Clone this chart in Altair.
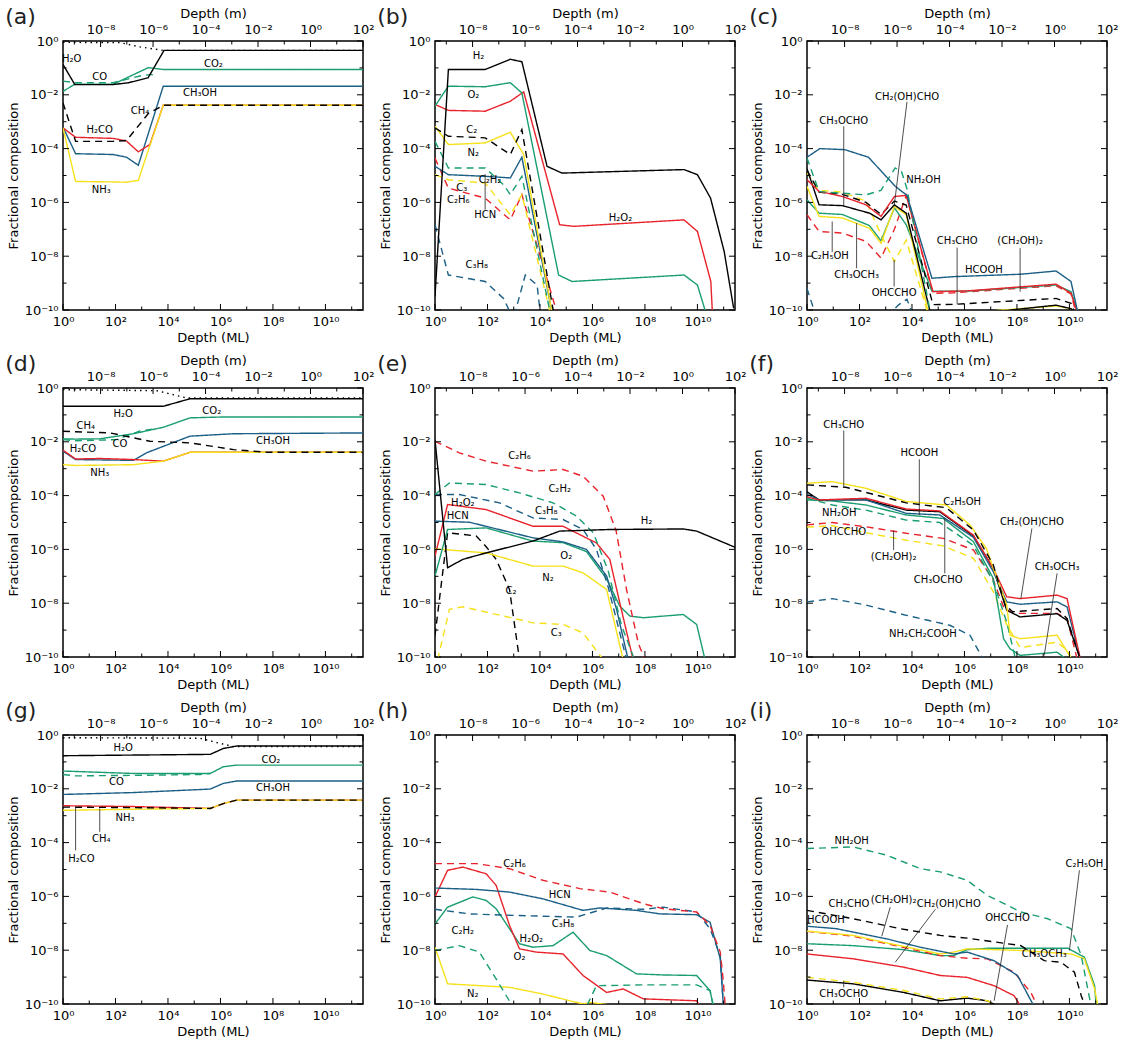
import json
import altair as alt
import pandas as pd

FONT = "DejaVu Sans"
W, H = 300, 269
M_PER_ML = 3.7e-10          # metres per monolayer (top axis conversion)
X_MAX = 2.7e11              # right end of the ML axis
M_MAX = 1.0e2               # right end of the metre axis

# ---------------- tick values and labels ----------------
x_tick_exps = list(range(0, 12))
x_tick_labels = ['10⁰', '', '10²', '', '10⁴', '', '10⁶', '', '10⁸', '', '10¹⁰', '']
m_tick_exps = list(range(-9, 3))
m_tick_labels = ['', '10⁻⁸', '', '10⁻⁶', '', '10⁻⁴', '', '10⁻²', '', '10⁰', '', '10²']
y_tick_exps = list(range(-10, 1))
y_tick_labels = ['10⁻¹⁰', '', '10⁻⁸', '', '10⁻⁶', '', '10⁻⁴', '', '10⁻²', '', '10⁰']

# ---------------- series styles ----------------
BLACK, GREEN, BLUE, RED, YELLOW = "#000000", "#1a9e70", "#1b5f86", "#e8232b", "#f6e11a"
STYLE = {
    "total": (BLACK, "dotted"), "H2O": (BLACK, "solid"), "CO2": (GREEN, "solid"),
    "CO": (GREEN, "dashed"), "CH3OH": (BLUE, "solid"), "H2CO": (RED, "solid"),
    "NH3": (YELLOW, "solid"), "CH4": (BLACK, "dashed"),
    "H2": (BLACK, "solid"), "O2": (GREEN, "solid"), "H2O2": (RED, "solid"),
    "N2": (YELLOW, "solid"), "HCN": (BLUE, "solid"), "C2": (BLACK, "dashed"),
    "C2H2": (GREEN, "dashed"), "C3": (YELLOW, "dashed"), "C2H6": (RED, "dashed"),
    "C3H8": (BLUE, "dashed"),
    "HCOOH": (BLUE, "solid"), "NH2OH": (GREEN, "dashed"), "CH2(OH)CHO": (RED, "solid"),
    "CH3CHO": (BLACK, "dashed"), "CH3OCHO": (BLACK, "solid"), "C2H5OH": (YELLOW, "solid"),
    "CH3OCH3": (GREEN, "solid"), "(CH2OH)2": (RED, "dashed"), "OHCCHO": (YELLOW, "dashed"),
    "NH2CH2COOH": (BLUE, "dashed"),
}

# ---------------- data: log10(depth in ML), log10(fraction) ----------------
panel_a = {
    "total": ([0, 2.17, 2.93, 3.82, 11.5], [-0.05, -0.06, -0.22, -0.35, -0.35]),
    "CO2": ([0, 0.45, 1.91, 3.25, 3.82, 11.5], [-1.87, -1.61, -1.61, -0.99, -1.06, -1.06]),
    "CO": ([0, 0.45, 1.91, 2.93, 3.38, 3.5], [-1.49, -1.55, -1.55, -1.30, -1.24, -1.32]),
    "H2O": ([0, 0.45, 1.91, 2.5, 3.24, 3.85, 11.5], [-0.87, -1.62, -1.62, -1.55, -1.37, -0.35, -0.35]),
    "CH3OH": ([0, 0.48, 1.91, 2.42, 2.87, 3.82, 11.5], [-3.2, -4.19, -4.22, -4.32, -4.62, -1.68, -1.68]),
    "H2CO": ([0, 0.48, 1.91, 2.42, 2.87, 3.31, 3.82, 11.5], [-3.23, -3.58, -3.62, -3.72, -4.12, -3.85, -2.39, -2.39]),
    "NH3": ([0, 0.48, 1.91, 2.42, 2.87, 3.82, 11.5], [-3.23, -5.22, -5.24, -5.25, -5.18, -2.39, -2.39]),
    "CH4": ([0, 0.48, 1.91, 2.42, 3.25, 3.82, 11.5], [-2.3, -3.73, -3.73, -3.7, -2.7, -2.39, -2.39]),
}
panel_b = {
    "C3H8": ([0, 0.51, 1.91, 2.61, 2.87, 3.05, 3.44, 3.89, 4.01], [-6.83, -8.7, -8.94, -9.57, -10.1, -10.1, -8.7, -9.07, -10.1]),
    "C2H6": ([0, 0.51, 1.91, 2.87, 3.31, 4.65], [-4.35, -5.47, -5.84, -6.65, -5.71, -10.1]),
    "C3": ([0, 0.51, 1.91, 2.87, 3.31, 4.39], [-4.97, -5.16, -5.28, -6.46, -5.71, -10.1]),
    "C2H2": ([0, 0.51, 1.91, 2.61, 2.87, 3.31, 4.39], [-3.73, -4.72, -4.72, -5.34, -5.71, -5.03, -10.1]),
    "HCN": ([0, 0.51, 1.91, 2.87, 3.31, 4.46], [-4.66, -4.97, -5.03, -5.09, -4.32, -10.1]),
    "N2": ([0, 0.51, 1.91, 2.87, 3.38, 4.46], [-3.17, -3.85, -3.79, -3.39, -4.22, -10.1]),
    "C2": ([0, 0.51, 1.91, 2.87, 3.31, 4.52], [-3.23, -3.54, -3.6, -4.22, -3.29, -10.1]),
    "H2O2": ([0, 0.51, 1.91, 2.87, 3.38, 4.75, 5.29, 9.49, 10.0, 10.51, 10.57], [-2.36, -2.58, -2.61, -2.24, -1.89, -6.83, -6.89, -6.65, -7.08, -8.94, -10.1]),
    "O2": ([0, 0.51, 1.91, 2.87, 3.31, 4.71, 5.22, 9.49, 10.0, 10.32], [-2.42, -1.68, -1.7, -1.55, -1.93, -8.7, -8.94, -8.7, -9.07, -10.1]),
    "H2": ([0, 0.51, 1.91, 2.87, 3.31, 4.27, 4.84, 9.49, 10.0, 10.5, 11.02, 11.38], [-9.5, -1.06, -1.06, -0.68, -0.77, -4.66, -4.91, -4.78, -4.97, -5.84, -7.83, -9.94]),
}
panel_c = {
    "NH2CH2COOH": ([0, 0.3, 3.2, 3.5, 3.81, 4.0], [-9.2, -10.1, -10.1, -9.8, -9.6, -10.1]),
    "OHCCHO": ([0, 0.46, 1.35, 2.25, 2.82, 3.33, 3.78, 4.6], [-4.9, -5.55, -5.62, -5.95, -7.2, -8.2, -7.4, -10.1]),
    "(CH2OH)2": ([0, 0.46, 1.35, 2.25, 2.82, 3.33, 3.78, 4.8, 5.6, 9.49, 10.06, 10.25], [-6.46, -7.08, -7.14, -7.45, -8.07, -7.0, -5.74, -9.38, -9.36, -9.1, -9.4, -10.1]),
    "CH3OCH3": ([0, 0.46, 1.35, 2.38, 2.82, 3.33, 3.78, 4.76, 6.1, 9.49, 10.06, 10.32], [-5.9, -6.4, -6.45, -6.86, -7.43, -6.2, -6.83, -9.3, -9.3, -9.07, -9.32, -10.1]),
    "C2H5OH": ([0, 0.46, 1.35, 2.38, 2.82, 3.33, 3.78, 4.62, 6.8, 9.49, 10.06, 10.15], [-5.4, -6.52, -6.58, -6.96, -7.52, -6.15, -6.46, -10.1, -10.05, -9.85, -9.95, -10.1]),
    "CH3OCHO": ([0, 0.46, 1.35, 2.38, 2.82, 3.33, 3.78, 4.7, 6.8, 9.49, 10.06, 10.2], [-4.75, -6.09, -6.12, -6.4, -6.65, -6.09, -6.4, -10.1, -10.1, -9.82, -9.95, -10.1]),
    "CH3CHO": ([0, 0.46, 1.35, 2.25, 2.82, 3.33, 3.78, 4.8, 5.6, 9.49, 10.06, 10.2], [-4.8, -5.62, -5.7, -6.0, -6.45, -5.95, -6.1, -9.8, -9.79, -9.57, -9.75, -10.1]),
    "CH2(OH)CHO": ([0, 0.46, 1.35, 2.25, 2.82, 3.33, 3.78, 4.8, 6.1, 9.49, 10.06, 10.3], [-5.16, -5.59, -5.78, -6.09, -6.52, -5.78, -5.74, -9.32, -9.29, -9.04, -9.38, -10.1]),
    "NH2OH": ([0, 0.46, 2.25, 2.82, 3.36, 3.6, 3.81, 4.7], [-4.35, -5.6, -5.72, -5.55, -4.72, -4.85, -5.5, -10.1]),
    "HCOOH": ([0, 0.49, 1.44, 2.34, 3.36, 3.81, 4.76, 5.59, 8.15, 9.49, 10.06, 10.32], [-4.32, -4.0, -4.04, -4.32, -5.4, -5.74, -8.82, -8.76, -8.67, -8.55, -8.94, -10.1]),
}
panel_d = {
    "total": ([0, 3.57, 4.71, 11.5], [-0.06, -0.1, -0.37, -0.37]),
    "CO2": ([0, 0.48, 1.4, 2.68, 3.82, 4.84, 5.99, 11.5], [-1.89, -1.9, -1.89, -1.7, -1.46, -1.11, -1.08, -1.08]),
    "CO": ([0, 0.48, 2.04, 2.93, 3.6], [-1.92, -1.96, -1.92, -1.6, -1.5]),
    "CH3OH": ([0, 0.48, 2.68, 3.18, 3.82, 4.84, 6.5, 11.5], [-2.35, -2.66, -2.69, -2.41, -2.17, -1.79, -1.7, -1.67]),
    "H2CO": ([0, 0.48, 1.4, 2.68, 3.82, 4.84, 11.5], [-2.31, -2.64, -2.62, -2.66, -2.72, -2.39, -2.39]),
    "NH3": ([0, 0.48, 2.68, 3.82, 4.84, 11.5], [-2.85, -2.88, -2.85, -2.72, -2.39, -2.39]),
    "H2O": ([0, 3.82, 4.84, 11.5], [-0.68, -0.68, -0.4, -0.4]),
    "CH4": ([0, 1.79, 3.31, 4.84, 6.5, 7.77, 11.5], [-1.61, -1.67, -1.98, -2.04, -2.29, -2.39, -2.39]),
}
panel_e = {
    "C3": ([0.1, 0.55, 1.06, 3.73, 4.88, 5.64, 6.41], [-10.1, -8.23, -8.13, -8.73, -8.79, -9.1, -10.1]),
    "C2": ([0, 0.48, 1.57, 1.95, 2.33, 2.84, 3.22], [-9.2, -5.38, -5.5, -5.9, -6.37, -7.49, -10.1]),
    "N2": ([0, 1.95, 3.73, 4.88, 5.64, 6.54, 7.17], [-5.98, -6.13, -6.62, -6.62, -6.87, -7.49, -10.1]),
    "O2": ([0, 0.48, 1.95, 3.73, 4.88, 5.77, 6.54, 7.04, 7.43, 7.94, 9.46, 9.97, 10.29], [-6.99, -5.26, -5.2, -5.69, -5.75, -6.08, -7.1, -8.11, -8.48, -8.54, -8.42, -8.79, -10.1]),
    "HCN": ([0, 1.31, 3.73, 4.88, 5.77, 6.54, 6.92, 7.36], [-4.95, -4.99, -5.57, -5.72, -6.0, -6.99, -8.23, -10.1]),
    "H2O2": ([0, 0.48, 1.95, 3.73, 4.88, 6.15, 6.66, 7.04, 7.55], [-6.25, -4.33, -4.52, -5.14, -5.14, -5.76, -6.37, -7.98, -10.1]),
    "C3H8": ([0, 0.93, 2.46, 3.73, 4.88, 5.64, 6.15, 6.6, 7.3], [-3.96, -3.96, -4.27, -4.83, -4.89, -5.26, -6.0, -7.4, -10.1]),
    "C2H2": ([0, 0.55, 1.95, 3.22, 4.5, 5.39, 6.03, 6.6, 7.1, 7.6], [-3.96, -3.53, -3.59, -3.9, -4.27, -4.76, -5.38, -6.8, -8.8, -10.1]),
    "C2H6": ([0, 0.93, 1.95, 3.73, 4.88, 5.64, 6.41, 6.9, 7.3, 7.75, 8.0], [-1.98, -2.41, -2.72, -3.09, -3.03, -3.28, -4.02, -5.3, -7.5, -9.5, -10.1]),
    "H2": ([0, 0.48, 1.06, 1.95, 3.73, 4.75, 6.66, 9.46, 9.97, 11.5], [-1.92, -6.68, -6.37, -6.13, -5.69, -5.32, -5.26, -5.24, -5.32, -5.95]),
}
panel_f = {
    "NH2CH2COOH": ([0, 0.97, 2.25, 3.78, 5.44, 6.21, 6.72], [-7.95, -7.83, -8.07, -8.45, -8.82, -9.19, -10.1]),
    "OHCCHO": ([0, 0.97, 2.25, 3.78, 5.19, 6.34, 7.1, 7.61, 8.12, 9.53, 9.91, 10.1], [-5.17, -5.12, -5.38, -5.66, -5.87, -6.33, -7.57, -8.8, -9.65, -9.45, -9.75, -10.1]),
    "(CH2OH)2": ([0, 0.97, 2.25, 3.78, 5.19, 6.34, 7.1, 7.49, 7.84, 9.53, 9.91, 10.3], [-5.09, -5.0, -5.16, -5.4, -5.59, -6.02, -7.14, -8.13, -8.38, -8.38, -8.57, -10.1]),
    "NH2OH": ([0, 0.97, 2.25, 3.78, 5.06, 6.34, 7.1, 7.61, 7.95], [-4.1, -4.35, -4.54, -4.91, -5.0, -5.85, -7.21, -8.7, -10.1]),
    "CH3OCH3": ([0, 0.97, 2.25, 3.78, 5.19, 6.34, 7.1, 7.49, 7.74, 8.12, 9.53, 9.91], [-4.16, -4.2, -4.35, -4.72, -4.85, -5.71, -7.08, -9.32, -9.7, -9.94, -9.82, -10.1]),
    "CH3OCHO": ([0, 0.46, 2.25, 3.78, 5.06, 6.34, 7.1, 7.61, 8.12, 9.53, 9.91, 10.42], [-3.86, -4.16, -4.16, -4.54, -4.6, -5.5, -6.71, -8.26, -8.51, -8.39, -8.64, -10.1]),
    "HCOOH": ([0, 0.46, 2.25, 3.78, 5.06, 6.34, 7.1, 7.61, 8.12, 9.53, 9.91, 10.42], [-3.95, -4.16, -4.16, -4.66, -4.72, -5.55, -6.83, -7.95, -8.04, -7.95, -8.14, -10.1]),
    "CH2(OH)CHO": ([0, 0.46, 2.25, 3.78, 5.06, 6.34, 7.1, 7.61, 8.12, 9.53, 9.91, 10.42], [-4.05, -4.16, -4.1, -4.5, -4.57, -5.47, -6.71, -7.76, -7.83, -7.7, -7.83, -10.1]),
    "C2H5OH": ([0, 0.97, 2.25, 3.78, 5.31, 6.21, 6.83, 7.61, 7.74, 8.12, 9.53, 10.1], [-3.54, -3.48, -3.73, -4.22, -4.35, -5.09, -5.96, -8.07, -9.19, -9.32, -9.19, -10.1]),
    "CH3CHO": ([0, 1.48, 3.78, 5.31, 6.34, 7.1, 7.55, 7.84, 9.53, 9.91, 10.42], [-3.6, -3.69, -4.27, -4.45, -5.28, -6.58, -8.07, -8.32, -8.2, -8.57, -10.1]),
}
panel_g = {
    "total": ([0, 5.22, 5.73, 6.5, 11.5], [-0.1, -0.12, -0.25, -0.43, -0.43]),
    "CO2": ([0, 2.68, 5.61, 6.11, 6.62, 11.5], [-1.34, -1.43, -1.43, -1.18, -1.12, -1.12]),
    "CO": ([0, 0.48, 2.68, 5.22, 5.61], [-1.47, -1.52, -1.5, -1.47, -1.43]),
    "CH3OH": ([0, 2.68, 5.61, 6.11, 6.62, 11.5], [-2.21, -2.14, -2.01, -1.8, -1.71, -1.71]),
    "H2CO": ([0, 2.68, 5.61, 6.11, 6.62, 11.5], [-2.63, -2.66, -2.73, -2.55, -2.42, -2.42]),
    "NH3": ([0, 2.68, 5.61, 6.11, 6.62, 11.5], [-2.8, -2.76, -2.73, -2.55, -2.42, -2.42]),
    "CH4": ([0, 2.68, 5.61, 6.11, 6.62, 11.5], [-2.68, -2.7, -2.73, -2.55, -2.42, -2.42]),
    "H2O": ([0, 5.61, 6.11, 6.62, 11.5], [-0.77, -0.72, -0.5, -0.41, -0.41]),
}
panel_h = {
    "N2": ([0, 0.48, 2.84, 4.11, 5.64, 5.9, 7.17], [-7.89, -9.25, -9.38, -9.63, -10.0, -9.94, -10.1]),
    "C2H2": ([0, 0.93, 1.69, 2.33, 2.97, 3.2, 5.6, 5.77, 6.15, 7.94, 9.97, 10.48, 10.61], [-8.01, -7.83, -8.07, -9.07, -10.1, -10.6, -10.6, -10.1, -9.32, -9.29, -9.29, -9.5, -10.1]),
    "O2": ([0, 0.48, 1.44, 1.95, 2.33, 3.22, 3.73, 4.5, 5.26, 5.9, 6.54, 7.68, 8.7, 9.97, 10.48, 10.61], [-7.02, -6.4, -6.02, -6.15, -6.46, -7.76, -7.89, -7.83, -7.33, -8.01, -8.2, -8.88, -8.92, -8.94, -9.5, -10.1]),
    "H2O2": ([0, 0.48, 1.06, 1.95, 2.33, 2.84, 3.22, 3.86, 4.88, 5.64, 6.54, 7.17, 7.94, 9.97, 10.1], [-6.02, -5.03, -4.91, -5.16, -5.59, -7.08, -7.95, -8.07, -8.14, -8.94, -9.57, -9.44, -9.81, -9.88, -10.1]),
    "C3H8": ([0, 1.31, 3.1, 5.39, 6.54, 7.94, 8.7, 9.97, 10.48, 10.87, 10.99], [-6.48, -6.65, -6.71, -6.77, -6.43, -6.48, -6.4, -6.58, -7.2, -8.2, -10.1]),
    "HCN": ([0, 1.57, 2.84, 4.11, 5.64, 6.28, 7.68, 8.57, 9.97, 10.48, 10.87, 10.99], [-5.69, -5.74, -5.84, -6.09, -6.52, -6.43, -6.52, -6.65, -6.68, -6.96, -8.32, -10.1]),
    "C2H6": ([0, 1.57, 2.84, 4.11, 5.52, 6.66, 7.94, 8.7, 9.97, 10.48, 10.87, 10.99, 11.06], [-4.78, -4.78, -4.97, -5.4, -5.71, -5.84, -6.27, -6.46, -6.58, -7.08, -8.07, -9.19, -10.1]),
}
panel_i = {
    "CH3OCHO": ([0, 1.76, 3.68, 5.08, 6.1, 6.87, 7.32], [-9.11, -9.25, -9.57, -9.88, -9.78, -9.88, -10.1]),
    "OHCCHO": ([0, 1.76, 3.68, 5.08, 6.1, 6.87, 7.38], [-9.01, -9.19, -9.5, -9.81, -9.73, -9.88, -10.1]),
    "CH2(OH)CHO": ([0, 1.76, 3.68, 5.08, 6.1, 7.13, 7.89, 8.15], [-8.14, -8.32, -8.63, -8.94, -9.01, -9.32, -9.69, -10.1]),
    "CH3OCH3": ([0, 1.76, 3.68, 5.08, 5.59, 6.1, 6.87, 9.94, 10.57, 10.96, 11.02], [-7.76, -7.83, -7.98, -8.2, -8.2, -7.98, -7.93, -7.93, -8.26, -9.32, -10.1]),
    "(CH2OH)2": ([0, 1.76, 3.04, 5.08, 6.1, 6.87, 7.89, 8.53, 8.79], [-7.3, -7.48, -7.76, -8.2, -8.3, -8.32, -8.82, -9.57, -10.1]),
    "C2H5OH": ([0, 1.76, 3.04, 5.08, 5.59, 6.1, 8.15, 10.06, 10.57, 10.96, 11.09], [-7.29, -7.45, -7.73, -8.14, -8.07, -7.95, -8.01, -8.14, -8.32, -9.44, -10.1]),
    "HCOOH": ([0, 1.12, 3.04, 4.32, 5.59, 6.1, 7.13, 8.02, 8.66], [-7.11, -7.2, -7.58, -7.89, -8.14, -8.07, -8.39, -8.94, -10.1]),
    "CH3CHO": ([0, 1.76, 3.55, 5.08, 6.1, 8.15, 9.04, 9.68, 10.19, 10.45, 10.6], [-6.52, -6.83, -7.2, -7.45, -7.55, -7.83, -8.39, -8.45, -8.82, -9.69, -10.1]),
    "NH2OH": ([0, 1.76, 3.04, 4.32, 5.08, 6.1, 6.87, 8.15, 9.17, 10.06, 10.45, 10.83], [-4.22, -4.16, -4.47, -4.97, -5.09, -5.4, -5.96, -6.58, -6.83, -7.2, -8.2, -10.1]),
}

# ---------------- annotations: (text, log10 ML, log10 fraction) ----------------
labels_a = [("H₂O", 0.33, -0.66), ("CO", 1.4, -1.34), ("CO₂", 5.73, -0.87), ("CH₃OH", 5.22, -1.93),
            ("CH₄", 2.93, -2.61), ("H₂CO", 1.4, -3.29), ("NH₃", 1.46, -5.53)]
labels_b = [("H₂", 1.66, -0.56), ("O₂", 1.46, -1.99), ("C₂", 1.4, -3.29), ("N₂", 1.46, -4.16),
            ("C₂H₂", 2.1, -5.16), ("C₃", 1.02, -5.45), ("C₂H₆", 0.89, -5.92), ("HCN", 1.91, -6.46),
            ("C₃H₈", 1.59, -8.32), ("H₂O₂", 7.07, -6.58)]
labels_c = [("CH₂(OH)CHO", 3.81, -2.09), ("CH₃OCHO", 1.4, -2.96), ("NH₂OH", 4.44, -5.16),
            ("C₂H₅OH", 0.87, -8.01), ("CH₃OCH₃", 1.89, -8.7), ("OHCCHO", 3.32, -9.38),
            ("CH₃CHO", 5.72, -7.45), ("HCOOH", 6.74, -8.51), ("(CH₂OH)₂", 8.12, -7.45)]
labels_d = [("H₂O", 2.29, -0.95), ("CO₂", 5.67, -0.87), ("CH₄", 0.87, -1.42), ("CO", 2.17, -2.1),
            ("CH₃OH", 8.0, -1.98), ("H₂CO", 0.76, -2.26), ("NH₃", 1.4, -3.16)]
labels_e = [("C₂H₆", 3.22, -2.54), ("H₂O₂", 1.06, -4.27), ("C₂H₂", 4.75, -3.77), ("C₃H₈", 4.24, -4.58),
            ("HCN", 0.87, -4.76), ("H₂", 8.06, -4.95), ("O₂", 5.0, -6.25), ("N₂", 4.31, -7.05),
            ("C₂", 2.9, -7.55), ("C₃", 4.62, -9.1)]
labels_f = [("CH₃CHO", 1.4, -1.37), ("HCOOH", 4.28, -2.42), ("C₂H₅OH", 5.91, -4.22), ("NH₂OH", 1.23, -4.66),
            ("OHCCHO", 1.4, -5.34), ("(CH₂OH)₂", 3.3, -6.27), ("CH₃OCHO", 5.0, -7.14),
            ("CH₂(OH)CHO", 8.57, -4.99), ("CH₃OCH₃", 9.53, -6.67), ("NH₂CH₂COOH", 4.42, -9.13)]
labels_g = [("H₂O", 2.29, -0.47), ("CO₂", 7.92, -0.93), ("CO", 2.04, -1.74), ("CH₃OH", 8.0, -1.96),
            ("NH₃", 2.36, -3.08), ("CH₄", 1.46, -3.85), ("H₂CO", 0.7, -4.6)]
labels_h = [("C₂H₆", 3.03, -4.78), ("HCN", 4.75, -5.96), ("C₃H₈", 4.88, -7.02), ("H₂O₂", 3.67, -7.58),
            ("C₂H₂", 1.06, -7.27), ("O₂", 3.22, -8.26), ("N₂", 1.44, -9.63)]
labels_i = [("NH₂OH", 1.7, -3.95), ("C₂H₅OH", 10.57, -4.81), ("(CH₂OH)₂", 3.3, -6.15),
            ("CH₂(OH)CHO", 5.4, -6.27), ("CH₃CHO", 1.6, -6.27), ("HCOOH", 0.72, -6.89),
            ("OHCCHO", 7.64, -6.81), ("CH₃OCH₃", 9.04, -8.15), ("CH₃OCHO", 1.4, -9.63)]

# leader lines: (x1, y1, x2, y2) in log10 units
leaders_b = [(1.91, -4.95, 1.91, -6.27)]
leaders_c = [(3.81, -2.26, 3.32, -6.15), (1.4, -3.17, 1.4, -6.15), (0.96, -7.85, 0.96, -6.71),
             (1.89, -8.45, 1.89, -6.77), (3.32, -9.13, 3.32, -8.14), (5.72, -7.68, 5.72, -9.79),
             (8.12, -7.7, 8.12, -9.32)]
leaders_f = [(1.4, -1.58, 1.4, -3.69), (4.28, -2.65, 4.28, -4.72), (3.3, -6.02, 3.3, -5.3),
             (5.25, -6.89, 5.25, -4.84), (8.57, -5.22, 8.15, -7.83), (9.53, -6.89, 9.04, -9.94)]
leaders_g = [(1.4, -3.6, 1.4, -2.73), (0.48, -4.29, 0.48, -2.67)]
leaders_i = [(10.38, -5.03, 10.0, -8.01), (3.17, -6.4, 2.85, -7.48), (4.89, -6.48, 3.36, -8.45),
             (7.64, -7.06, 7.13, -9.88), (1.4, -9.38, 1.4, -9.14)]

MAJ, MIN = 6, 3.5


def label_expr(labels, first_exp):
    return f"{json.dumps(labels, ensure_ascii=False)}[round(log(datum.value)/LN10) - ({first_exp})]"


def split_ticks(exps, labels):
    major = [10.0 ** e for e, l in zip(exps, labels) if l]
    minor = [10.0 ** e for e, l in zip(exps, labels) if not l]
    return major, minor


def xsc():
    return alt.Scale(type="log", domain=[1, X_MAX], nice=False)


def ysc():
    return alt.Scale(type="log", domain=[1e-10, 1], nice=False)


def panel(letter, series, labels, leaders):
    ms = alt.Scale(type="log", domain=[M_PER_ML, M_MAX], nice=False)

    rows = []
    for k, (name, (lx, ly)) in enumerate(series.items()):
        color, dash = STYLE[name]
        for i, (a, b) in enumerate(zip(lx, ly)):
            rows.append(dict(series=name, k=k, i=i, x=10.0 ** a, y=10.0 ** b, color=color, dash=dash))
    df = pd.DataFrame(rows)

    lines = alt.Chart(df).mark_line(clip=True, strokeWidth=1.4).encode(
        x=alt.X("x:Q", scale=xsc(), axis=alt.Axis(
            orient="bottom", values=[10.0 ** e for e in x_tick_exps],
            labelExpr=label_expr(x_tick_labels, x_tick_exps[0]), title="Depth (ML)",
            ticks=False, domain=False, grid=False, labelFlush=False, labelOverlap=False,
            labelPadding=5, titlePadding=3)),
        y=alt.Y("y:Q", scale=ysc(), axis=alt.Axis(
            orient="left", values=[10.0 ** e for e in y_tick_exps],
            labelExpr=label_expr(y_tick_labels, y_tick_exps[0]), title="Fractional composition",
            ticks=False, domain=False, grid=False, labelFlush=False, labelOverlap=False,
            labelPadding=5, titlePadding=4)),
        detail="series:N",
        color=alt.Color("color:N", scale=None),
        strokeDash=alt.StrokeDash("dash:N", scale=alt.Scale(
            domain=["solid", "dashed", "dotted"], range=[[1, 0], [7, 5], [1.5, 4]]), legend=None),
        order="i:Q",
    )

    tdf = pd.DataFrame([dict(text=t, x=10.0 ** a, y=10.0 ** b) for t, a, b in labels])
    texts = alt.Chart(tdf).mark_text(font=FONT, fontSize=10, color="black").encode(
        x=alt.X("x:Q", scale=xsc(), axis=None), y=alt.Y("y:Q", scale=ysc(), axis=None), text="text:N")

    layers = [lines, texts]
    if leaders:
        ldf = pd.DataFrame([dict(x=10.0 ** a, y=10.0 ** b, x2=10.0 ** c, y2=10.0 ** d) for a, b, c, d in leaders])
        layers.append(alt.Chart(ldf).mark_rule(color="#222222", strokeWidth=0.8).encode(
            x=alt.X("x:Q", scale=xsc(), axis=None), y=alt.Y("y:Q", scale=ysc(), axis=None),
            x2="x2:Q", y2="y2:Q"))

    xmaj, xmin = split_ticks(x_tick_exps, x_tick_labels)
    ymaj, ymin = split_ticks(y_tick_exps, y_tick_labels)
    for vals, ln in ((xmaj, MAJ), (xmin, MIN)):
        layers.append(alt.Chart(pd.DataFrame({"v": vals})).mark_rule(color="black", strokeWidth=1).encode(
            x=alt.X("v:Q", scale=xsc(), axis=None), y=alt.value(H), y2=alt.value(H - ln)))
    for vals, ln in ((ymaj, MAJ), (ymin, MIN)):
        layers.append(alt.Chart(pd.DataFrame({"v": vals})).mark_rule(color="black", strokeWidth=1).encode(
            y=alt.Y("v:Q", scale=ysc(), axis=None), x=alt.value(0), x2=alt.value(ln)))
        layers.append(alt.Chart(pd.DataFrame({"v": vals})).mark_rule(color="black", strokeWidth=1).encode(
            y=alt.Y("v:Q", scale=ysc(), axis=None), x=alt.value(W), x2=alt.value(W - ln)))

    mmaj, mmin = split_ticks(m_tick_exps, m_tick_labels)
    layers.append(alt.Chart(pd.DataFrame({"v": mmaj})).mark_rule(color="black", strokeWidth=1).encode(
        x=alt.X("v:Q", scale=ms, axis=alt.Axis(
            orient="top", values=[10.0 ** e for e in m_tick_exps],
            labelExpr=label_expr(m_tick_labels, m_tick_exps[0]), title="Depth (m)",
            ticks=False, domain=False, grid=False, labelFlush=False, labelOverlap=False,
            labelPadding=5, titlePadding=3)),
        y=alt.value(0), y2=alt.value(MAJ)))
    layers.append(alt.Chart(pd.DataFrame({"v": mmin})).mark_rule(color="black", strokeWidth=1).encode(
        x=alt.X("v:Q", scale=ms, axis=None), y=alt.value(0), y2=alt.value(MIN)))

    return alt.layer(*layers).resolve_scale(x="independent").resolve_axis(y="independent").properties(
        width=W, height=H,
        title=alt.TitleParams(f"({letter})", anchor="start", frame="bounds", fontSize=22,
                              font=FONT, fontWeight="normal", color="#222222", dx=-2, dy=22, offset=0))


panels = [
    panel("a", panel_a, labels_a, []),
    panel("b", panel_b, labels_b, leaders_b),
    panel("c", panel_c, labels_c, leaders_c),
    panel("d", panel_d, labels_d, []),
    panel("e", panel_e, labels_e, []),
    panel("f", panel_f, labels_f, leaders_f),
    panel("g", panel_g, labels_g, leaders_g),
    panel("h", panel_h, labels_h, []),
    panel("i", panel_i, labels_i, leaders_i),
]

chart = alt.concat(*panels, columns=3, spacing={"row": 78, "column": 72}, bounds="flush").properties(
    padding={"left": 4, "top": 5, "right": 5, "bottom": 5}
).configure_view(stroke="black", strokeWidth=1.5).configure_axis(
    labelFont=FONT, titleFont=FONT, labelFontSize=13, titleFontSize=13,
    titleFontWeight="normal", labelColor="black", titleColor="black", grid=False
)

chart.save("out.html", embed_options={"renderer": "svg", "actions": False})
